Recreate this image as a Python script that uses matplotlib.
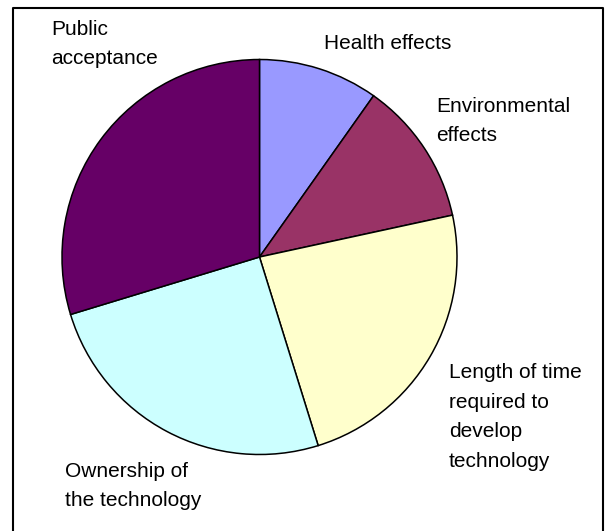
import matplotlib.pyplot as plt

# slice shares, clockwise from 12 o'clock
categories = ["Health effects",
              "Environmental\neffects",
              "Length of time\nrequired to\ndevelop\ntechnology",
              "Ownership of\nthe technology",
              "Public\nacceptance"]
shares = [9.8, 11.8, 23.6, 25.1, 29.7]
colors = ["#9999FF", "#993366", "#FFFFCC", "#CCFFFF", "#660066"]

W, H = 611, 531
fig = plt.figure(figsize=(W / 100, H / 100), dpi=100)
ax = fig.add_axes([0, 0, 1, 1])
ax.set_xlim(0, W)
ax.set_ylim(0, H)
ax.set_aspect("equal")
ax.axis("off")

# pie, pixel-like coordinates (y measured upward)
ax.pie(shares, colors=colors, startangle=90, counterclock=False,
       center=(259.5, H - 257), radius=197.5, frame=True,
       wedgeprops=dict(edgecolor="black", linewidth=1.1))
ax.set_xlim(0, W)
ax.set_ylim(0, H)
ax.axis("off")

# label anchors: left x, first baseline (from top), line step
label_pos = [(324, 49, 29), (436, 112, 29), (449, 378, 29.7),
             (65, 477, 28.5), (51, 35, 28.5)]
for text, (x, y0, step) in zip(categories, label_pos):
    for i, line in enumerate(text.split("\n")):
        ax.text(x, H - (y0 + i * step), line, fontsize=15,
                family="Liberation Sans", ha="left", va="baseline")

# frame round the chart area
ax.plot([13, 13, 603, 603], [0, H - 8, H - 8, 0], color="black",
        linewidth=1.5, solid_capstyle="butt")

fig.savefig("out.png", dpi=100)
